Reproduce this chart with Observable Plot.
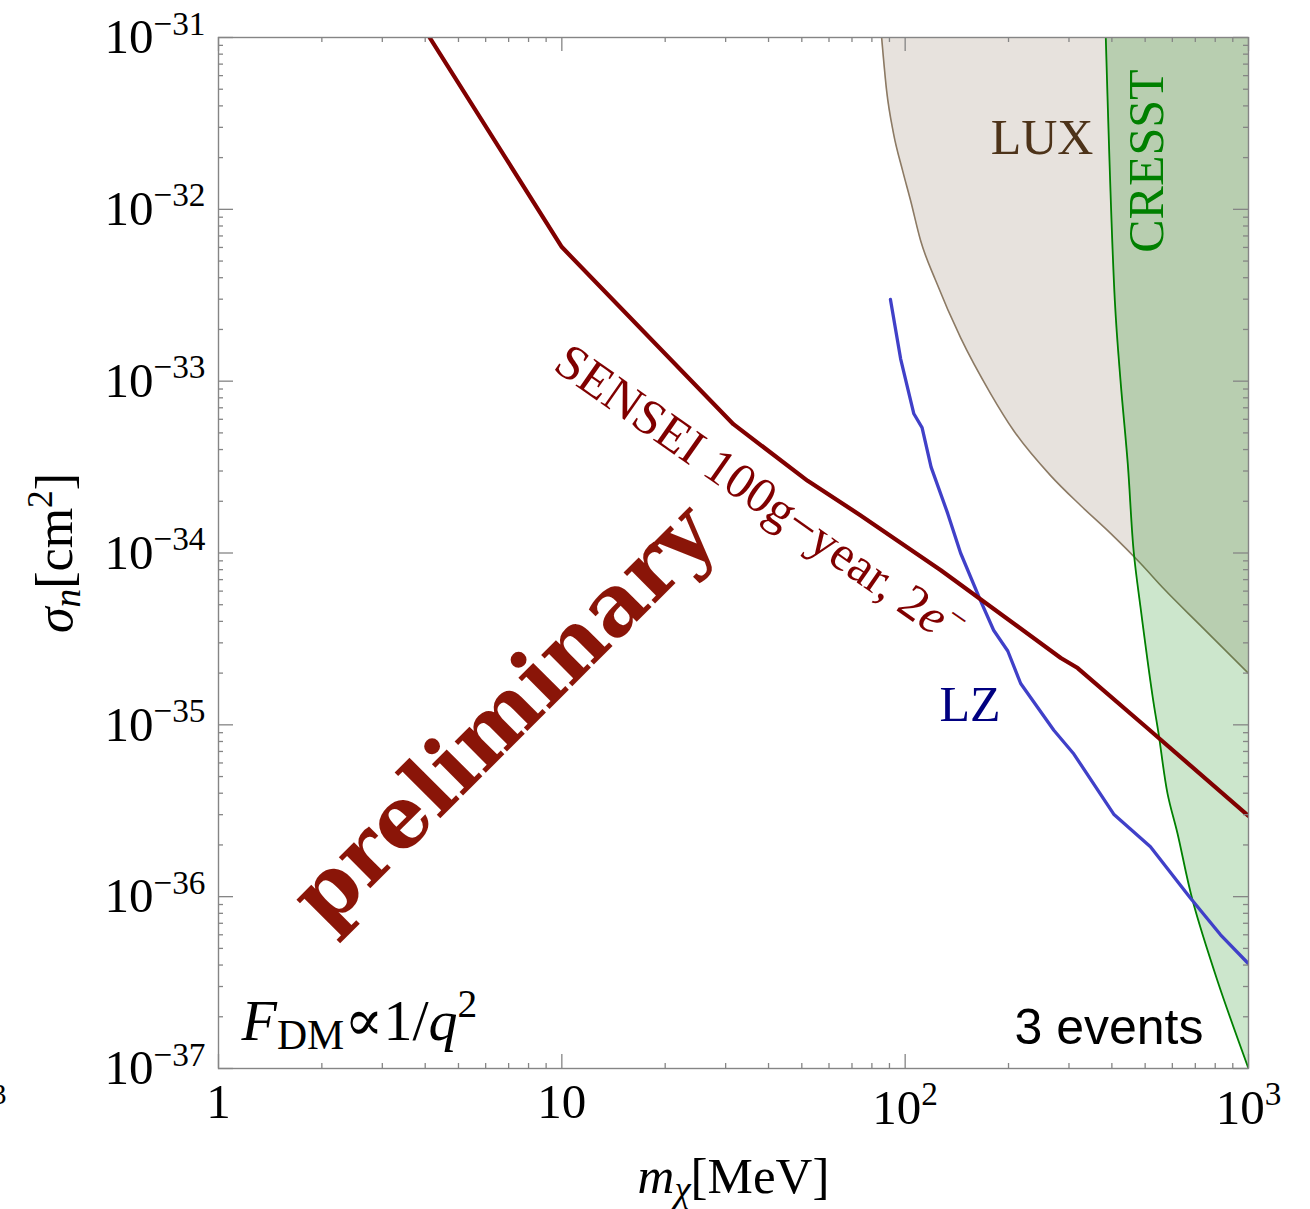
<!DOCTYPE html>
<html>
<head>
<meta charset="utf-8">
<script src="https://cdn.jsdelivr.net/npm/d3@7"></script>
<script src="https://cdn.jsdelivr.net/npm/@observablehq/plot@0.6"></script>
<style>
  html, body { margin: 0; padding: 0; background: #fff; }
  #chart { width: 1310px; height: 1209px; overflow: hidden; }
</style>
</head>
<body>
<div id="chart"></div>
<script>
// ---------- data ----------
// SENSEI 100g-year, 2e- projected limit
const senseiMass  = [4.12, 10, 31.6, 52, 74, 127, 284, 318, 508, 1000];
const senseiSigma = [1e-31, 6.03e-33, 5.62e-34, 2.63e-34, 1.66e-34, 7.94e-35, 2.45e-35, 2.14e-35, 9.55e-36, 2.95e-36];

// LZ projection
const lzMass  = [90.6, 97, 106, 112, 119, 133, 145, 166, 181, 199, 217, 271, 310, 405, 518, 678, 829, 1000];
const lzSigma = [2.99e-33, 1.35e-33, 6.46e-34, 5.37e-34, 3.16e-34, 1.70e-34, 1.0e-34, 5.25e-35, 3.55e-35, 2.69e-35, 1.74e-35, 9.3e-36, 6.76e-36, 3.02e-36, 1.95e-36, 9.8e-37, 6.0e-37, 4.07e-37];

// LUX excluded region boundary
const luxMass  = [85.4, 88.3, 92.5, 98.3, 103.7, 110.9, 122.7, 145, 177.3, 206.9, 265.2, 324.3, 396.6, 485.1, 565.8, 725.2, 1000];
const luxSigma = [1e-31, 4.91e-32, 2.76e-32, 1.68e-32, 1.125e-32, 6.58e-33, 3.85e-33, 1.79e-33, 8.47e-34, 5.16e-34, 2.82e-34, 1.89e-34, 1.30e-34, 8.68e-35, 6.21e-35, 3.78e-35, 1.99e-35];

// CRESST excluded region boundary
const cresstMass  = [384, 408, 424, 445, 463, 485, 526, 547, 581, 621, 687, 812, 1000];
const cresstSigma = [1e-31, 2.95e-33, 1e-33, 3.31e-34, 1.02e-34, 4.79e-35, 1.45e-35, 8.91e-36, 3.98e-36, 2.34e-36, 9.55e-37, 3.24e-37, 1e-37];

// axis ticks and labels
const xMajor = [1, 10, 100, 1000];
const xMajorLabels = ["1", "10", "10^{2}", "10^{3}"];
const yMajor = [1e-31, 1e-32, 1e-33, 1e-34, 1e-35, 1e-36, 1e-37];
const yMajorLabels = ["10^{−31}", "10^{−32}", "10^{−33}", "10^{−34}", "10^{−35}", "10^{−36}", "10^{−37}"];
const xMinor = [1, 10, 100].flatMap(b => [2,3,4,5,6,7,8,9].map(k => k * b));
const yMinor = [-37, -36, -35, -34, -33, -32].flatMap(e => [2,3,4,5,6,7,8,9].map(k => +(k + "e" + e)));

const sensei = senseiMass.map((m, i) => ({m, s: senseiSigma[i]}));
const lz = lzMass.map((m, i) => ({m, s: lzSigma[i]}));
const lux = luxMass.map((m, i) => ({m, s: luxSigma[i]}));
const cresst = cresstMass.map((m, i) => ({m, s: cresstSigma[i]}));

const gray = "#858585";
const W = 1310, H = 1209, ML = 218, MR = 62, MT = 37, MB = 141;
const FW = W - ML - MR, FH = H - MT - MB;
const serif = "'Liberation Serif', 'Times New Roman', 'DejaVu Serif', serif";

const svg = Plot.plot({
  width: W, height: H,
  marginLeft: ML, marginRight: MR, marginTop: MT, marginBottom: MB,
  x: {type: "log", domain: [1, 1000], axis: null},
  y: {type: "log", domain: [1e-37, 1e-31], axis: null},
  style: {fontFamily: serif, background: "#fff", overflow: "visible"},
  marks: [
    // LUX region
    Plot.areaY(lux, {x: "m", y1: "s", y2: () => 1e-31, fill: "#e7e2dd", curve: "monotone-x", clip: true}),
    Plot.line(lux, {x: "m", y: "s", stroke: "#8c7a64", strokeWidth: 1.6, curve: "monotone-x", clip: true}),
    // CRESST region
    Plot.areaX(cresst, {y: "s", x1: "m", x2: () => 1000, fill: "#008000", fillOpacity: 0.2, curve: "catmull-rom", clip: true}),
    Plot.line(cresst, {x: "m", y: "s", stroke: "#008000", strokeWidth: 1.8, curve: "catmull-rom", clip: true}),
    // LZ
    Plot.line(lz, {x: "m", y: "s", stroke: "#4040c8", strokeWidth: 3.3, clip: true}),
    // SENSEI
    Plot.line(sensei, {x: "m", y: "s", stroke: "#800000", strokeWidth: 4.2, clip: true}),

    // frame & ticks (inward, on all four sides)
    Plot.frame({stroke: gray, strokeWidth: 1.4}),
    Plot.tickX(xMajor, {x: d => d, insetTop: FH - 14, stroke: gray, strokeWidth: 1.3}),
    Plot.tickX(xMajor, {x: d => d, insetBottom: FH - 14, stroke: gray, strokeWidth: 1.3}),
    Plot.tickX(xMinor, {x: d => d, insetTop: FH - 5, stroke: gray, strokeWidth: 1.3}),
    Plot.tickX(xMinor, {x: d => d, insetBottom: FH - 5, stroke: gray, strokeWidth: 1.3}),
    Plot.tickY(yMajor, {y: d => d, insetRight: FW - 15, stroke: gray, strokeWidth: 1.3}),
    Plot.tickY(yMajor, {y: d => d, insetLeft: FW - 15, stroke: gray, strokeWidth: 1.3}),
    Plot.tickY(yMinor, {y: d => d, insetRight: FW - 5, stroke: gray, strokeWidth: 1.3}),
    Plot.tickY(yMinor, {y: d => d, insetLeft: FW - 5, stroke: gray, strokeWidth: 1.3}),

    // tick labels
    Plot.text(xMajor.slice(0, 2), {x: d => d, text: (d, i) => xMajorLabels[i], frameAnchor: "bottom", lineAnchor: "top", dy: 15, fontSize: 49, fill: "#000"}),
    Plot.text(xMajor.slice(2), {x: d => d, text: (d, i) => xMajorLabels[i + 2], frameAnchor: "bottom", lineAnchor: "bottom", dy: 55, fontSize: 49, fill: "#000"}),
    Plot.text(yMajor, {y: d => d, text: (d, i) => yMajorLabels[i], frameAnchor: "left", textAnchor: "end", lineAnchor: "middle", dx: -13, fontSize: 49, fill: "#000"}),

    // axis titles
    Plot.text(["$m$_{$χ$}[MeV]"], {frameAnchor: "bottom", textAnchor: "middle", lineAnchor: "bottom", dy: 124, fontSize: 51, fill: "#000"}),
    Plot.text(["$σ$_{$n$}[cm^{2}]"], {frameAnchor: "left", textAnchor: "middle", lineAnchor: "bottom", rotate: -90, dx: -147, fontSize: 52, fill: "#000"}),

    // annotations
    Plot.text(["LUX"], {x: () => 250.5, y: () => 2.11e-32, lineAnchor: "bottom", fontSize: 50, fill: "#4d3319"}),
    Plot.text(["CRESST"], {x: () => 562, y: () => 1.91e-32, rotate: -90, lineAnchor: "bottom", fontSize: 50, fill: "#008000"}),
    Plot.text(["LZ"], {x: () => 154.6, y: () => 1.05e-35, lineAnchor: "bottom", fontSize: 50, fill: "#000080"}),
    Plot.text(["SENSEI 100g−year, 2$e$^{−}"], {x: () => 9.33, y: () => 1.18e-33, rotate: 35, textAnchor: "start", lineAnchor: "bottom", fontSize: 50, fill: "#800000"}),
    Plot.text(["preliminary"], {x: () => 6.77, y: () => 1.12e-35, rotate: -45, textAnchor: "middle", lineAnchor: "middle", fontSize: 85, fontWeight: "bold", fontFamily: "'DejaVu Serif', serif", fill: "#8a1508"}),
    Plot.text(["$F$_{DM}∝1/$q$^{2}"], {frameAnchor: "bottom-left", textAnchor: "start", lineAnchor: "bottom", dx: 23, dy: -29, fontSize: 58, fill: "#000"}),
    Plot.text(["3 events"], {frameAnchor: "bottom-right", textAnchor: "end", lineAnchor: "bottom", dx: -45, dy: -25, fontSize: 50, fontFamily: "'Liberation Sans', Arial, sans-serif", fill: "#000"}),
    // clipped fragment of a neighbouring panel's label at the left edge (as in the reference)
    Plot.text(["3"], {frameAnchor: "bottom-left", textAnchor: "start", lineAnchor: "bottom", dx: -227, dy: 35, fontSize: 30, fill: "#000"})
  ]
});

document.getElementById("chart").appendChild(svg);

// ---------- rich text: ^{sup}, _{sub}, $italic$ ----------
const NS = "http://www.w3.org/2000/svg";
function setRich(el, str, fs) {
  while (el.firstChild) el.removeChild(el.firstChild);
  const tokens = str.split(/(\^\{[^}]*\}|_\{[^}]*\})/).filter(t => t.length);
  let cur = 0;
  for (const tok of tokens) {
    let kind = 0, body = tok;
    if (tok.startsWith("^{")) { kind = 1; body = tok.slice(2, -1); }
    else if (tok.startsWith("_{")) { kind = -1; body = tok.slice(2, -1); }
    const target = kind === 1 ? -0.38 * fs : kind === -1 ? 0.16 * fs : 0;
    body.split(/(\$[^$]*\$)/).filter(t => t.length).forEach(piece => {
      const ts = document.createElementNS(NS, "tspan");
      let txt = piece;
      if (piece.length > 1 && piece.startsWith("$") && piece.endsWith("$")) {
        txt = piece.slice(1, -1);
        ts.setAttribute("font-style", "italic");
      }
      ts.textContent = txt;
      if (kind) ts.setAttribute("font-size", (kind === 1 ? 0.68 : 0.72) * fs);
      const d = target - cur;
      if (d) ts.setAttribute("dy", d);
      cur = target;
      el.appendChild(ts);
    });
  }
}
svg.querySelectorAll("text").forEach(el => {
  const s = el.textContent;
  if (!/[\^_]\{|\$/.test(s)) return;
  const fs = parseFloat(getComputedStyle(el).fontSize);
  setRich(el, s, fs);
});
</script>
</body>
</html>
